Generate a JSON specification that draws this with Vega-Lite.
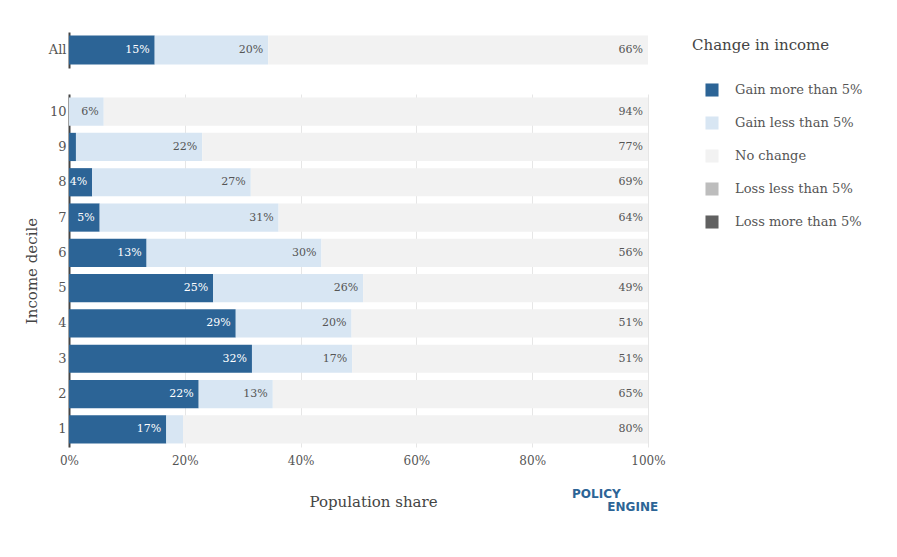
{
  "$schema": "https://vega.github.io/schema/vega-lite/v6.json",
  "padding": {"left": 24, "top": 32, "right": 5, "bottom": 5},
  "background": "white",
  "config": {
    "font": "DejaVu Serif",
    "view": {"stroke": null},
    "axis": {"labelColor": "#555", "titleColor": "#444", "titleFontWeight": "normal", "ticks": false},
    "legend": {"titleColor": "#444", "labelColor": "#555"}
  },
  "datasets": {
    "all": [
      {"decile": "All", "category": "Gain more than 5%", "k": 1, "value": 0.148},
      {"decile": "All", "category": "Gain less than 5%", "k": 2, "value": 0.196},
      {"decile": "All", "category": "No change", "k": 3, "value": 0.656}
    ],
    "deciles": [
      {"decile": "10", "category": "Gain more than 5%", "k": 1, "value": 0.0},
      {"decile": "10", "category": "Gain less than 5%", "k": 2, "value": 0.06},
      {"decile": "10", "category": "No change", "k": 3, "value": 0.94},
      {"decile": "9", "category": "Gain more than 5%", "k": 1, "value": 0.012},
      {"decile": "9", "category": "Gain less than 5%", "k": 2, "value": 0.218},
      {"decile": "9", "category": "No change", "k": 3, "value": 0.77},
      {"decile": "8", "category": "Gain more than 5%", "k": 1, "value": 0.04},
      {"decile": "8", "category": "Gain less than 5%", "k": 2, "value": 0.274},
      {"decile": "8", "category": "No change", "k": 3, "value": 0.686},
      {"decile": "7", "category": "Gain more than 5%", "k": 1, "value": 0.053},
      {"decile": "7", "category": "Gain less than 5%", "k": 2, "value": 0.309},
      {"decile": "7", "category": "No change", "k": 3, "value": 0.638},
      {"decile": "6", "category": "Gain more than 5%", "k": 1, "value": 0.134},
      {"decile": "6", "category": "Gain less than 5%", "k": 2, "value": 0.302},
      {"decile": "6", "category": "No change", "k": 3, "value": 0.564},
      {"decile": "5", "category": "Gain more than 5%", "k": 1, "value": 0.249},
      {"decile": "5", "category": "Gain less than 5%", "k": 2, "value": 0.259},
      {"decile": "5", "category": "No change", "k": 3, "value": 0.492},
      {"decile": "4", "category": "Gain more than 5%", "k": 1, "value": 0.288},
      {"decile": "4", "category": "Gain less than 5%", "k": 2, "value": 0.2},
      {"decile": "4", "category": "No change", "k": 3, "value": 0.512},
      {"decile": "3", "category": "Gain more than 5%", "k": 1, "value": 0.316},
      {"decile": "3", "category": "Gain less than 5%", "k": 2, "value": 0.173},
      {"decile": "3", "category": "No change", "k": 3, "value": 0.511},
      {"decile": "2", "category": "Gain more than 5%", "k": 1, "value": 0.224},
      {"decile": "2", "category": "Gain less than 5%", "k": 2, "value": 0.128},
      {"decile": "2", "category": "No change", "k": 3, "value": 0.648},
      {"decile": "1", "category": "Gain more than 5%", "k": 1, "value": 0.168},
      {"decile": "1", "category": "Gain less than 5%", "k": 2, "value": 0.029},
      {"decile": "1", "category": "No change", "k": 3, "value": 0.803}
    ]
  },
  "spacing": 26,
  "resolve": {"scale": {"color": "shared"}},
  "vconcat": [
    {
      "width": 579,
      "height": 36,
      "data": {"name": "all"},
      "transform": [{"stack": "value", "groupby": ["decile"], "sort": [{"field": "k"}], "as": ["v0", "v1"]}],
      "encoding": {
        "y": {"field": "decile", "type": "nominal", "scale": {"paddingInner": 0.2, "paddingOuter": 0.1},
          "axis": {"title": null, "domainColor": "#444", "domainWidth": 2, "labelFontSize": 13, "labelPadding": 3}}
      },
      "layer": [
        {
          "mark": {"type": "bar"},
          "encoding": {
            "x": {"field": "v0", "type": "quantitative", "scale": {"domain": [0, 1]}, "axis": null},
            "x2": {"field": "v1"},
            "color": {"field": "category", "type": "nominal",
              "scale": {"domain": ["Gain more than 5%", "Gain less than 5%", "No change", "Loss less than 5%", "Loss more than 5%"],
                "range": ["#2C6496", "#D8E6F3", "#F2F2F2", "#BDBDBD", "#616161"]},
              "legend": {"title": "Change in income", "orient": "right", "titleFontSize": 15, "titleFontWeight": "normal", "titlePadding": 30,
                "labelFontSize": 13, "symbolType": "square", "symbolSize": 170, "symbolStrokeWidth": 0, "rowPadding": 19,
                "labelOffset": 16, "symbolOffset": 13, "offset": 20, "padding": 6}}
          }
        },
        {
          "transform": [{"filter": "datum.value >= 0.035"}],
          "mark": {"type": "text", "align": "right", "dx": -5, "fontSize": 11},
          "encoding": {
            "x": {"field": "v1", "type": "quantitative"},
            "text": {"field": "value", "type": "quantitative", "format": ".0%"},
            "color": {"condition": {"test": "datum.category === 'Gain more than 5%'", "value": "white"}, "value": "#555"}
          }
        }
      ]
    },
    {
      "width": 579,
      "height": 353,
      "data": {"name": "deciles"},
      "title": {"text": "POLICY\u2800\u2800\u2800\u2800", "subtitle": "ENGINE", "orient": "bottom", "anchor": "end", "dx": -7, "offset": -20,
        "font": "DejaVu Sans", "fontSize": 12, "fontWeight": "bold", "color": "#2C6496",
        "subtitleFont": "DejaVu Sans", "subtitleFontSize": 12, "subtitleFontWeight": "bold", "subtitleColor": "#2C6496", "subtitlePadding": 1},
      "transform": [{"stack": "value", "groupby": ["decile"], "sort": [{"field": "k"}], "as": ["v0", "v1"]}],
      "encoding": {
        "y": {"field": "decile", "type": "nominal", "sort": ["10", "9", "8", "7", "6", "5", "4", "3", "2", "1"],
          "scale": {"paddingInner": 0.2, "paddingOuter": 0.1},
          "axis": {"title": "Income decile", "titleFontSize": 15, "titlePadding": 10, "domainColor": "#444", "domainWidth": 2, "labelFontSize": 13, "labelPadding": 3}}
      },
      "layer": [
        {
          "mark": {"type": "bar"},
          "encoding": {
            "x": {"field": "v0", "type": "quantitative", "scale": {"domain": [0, 1]},
              "axis": {"format": ".0%", "values": [0, 0.2, 0.4, 0.6, 0.8, 1], "labelFlush": false, "domain": false,
                "grid": true, "gridColor": "#e6e6e6", "labelFontSize": 12, "labelPadding": 8,
                "title": "Population share", "titleFontSize": 15, "titlePadding": 28, "titleX": 304}},
            "x2": {"field": "v1"},
            "color": {"field": "category", "type": "nominal"}
          }
        },
        {
          "transform": [{"filter": "datum.value >= 0.035"}],
          "mark": {"type": "text", "align": "right", "dx": -5, "fontSize": 11},
          "encoding": {
            "x": {"field": "v1", "type": "quantitative"},
            "text": {"field": "value", "type": "quantitative", "format": ".0%"},
            "color": {"condition": {"test": "datum.category === 'Gain more than 5%'", "value": "white"}, "value": "#555"}
          }
        }
      ]
    }
  ]
}
